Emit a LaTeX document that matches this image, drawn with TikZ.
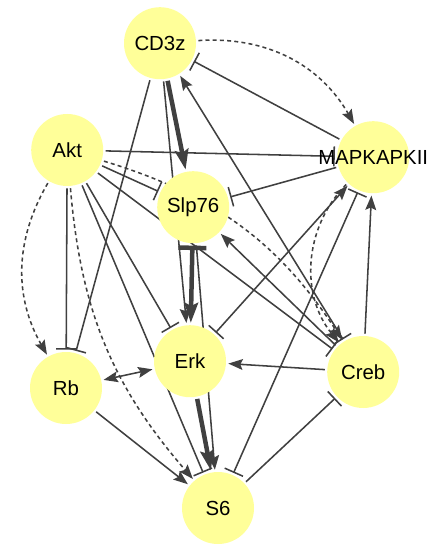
\documentclass[tikz,border=0pt]{standalone}
\usepackage{fontspec}
\setmainfont{Liberation Sans}
\usetikzlibrary{arrows.meta,backgrounds}
\definecolor{genefill}{HTML}{FFFF99}
\definecolor{edgegray}{HTML}{404040}

\begin{document}
\begin{tikzpicture}[
        gene/.style={circle, fill=genefill, minimum size=1.8cm, inner sep=0pt, font=\fontsize{14.5}{17}\selectfont},
        edge/.style={draw=edgegray, line width=1.1pt, shorten >=1.5pt, shorten <=1.5pt},
        act/.style={edge, -Act},
        inh/.style={edge, -Inh},
        weak/.style={dash pattern=on 1mm off 0.8mm},
        strong/.style={line width=3.2pt},
        Act/.tip={Stealth[length=3.6mm, width=2.7mm, inset=0.6mm]},
        Inh/.tip={Bar[width=5mm]},
        ActB/.tip={Stealth[length=5mm, width=3.4mm, inset=0.8mm]},
        InhB/.tip={Bar[width=7mm]}
    ]
        \useasboundingbox (0,0) rectangle (10.875,-13.75);

        \node[gene] (cd3z) at (4.00,-1.08) {CD3z};
        \node[gene] (akt) at (1.68,-3.75) {Akt};
        \node[gene] (mapk) at (9.33,-3.93) {\makebox[0pt]{MAPKAPKII}};
        \node[gene] (slp76) at (4.83,-5.18) {Slp76};
        \node[gene] (erk) at (4.75,-9.03) {Erk};
        \node[gene] (rb) at (1.65,-9.70) {Rb};
        \node[gene] (creb) at (9.08,-9.30) {Creb};
        \node[gene] (s6) at (5.45,-12.70) {S6};

        \begin{scope}[on background layer]
        % CD3z
        \draw[act, weak] (cd3z) to[bend left=32] (mapk);
        \draw[inh] (mapk) -- (cd3z);
        \draw[edge, strong, -ActB] (cd3z) -- (slp76);
        \draw[act] (cd3z) -- (erk);
        \draw[inh] (cd3z) -- (rb);
        \draw[edge, Act-Inh] (cd3z) -- (creb);
        % Akt
        \draw[inh] (akt) -- (mapk);
        \draw[inh] (akt) -- (slp76);
        \draw[act, weak] (akt) to[bend left=20] (creb);
        \draw[inh] (akt) -- (creb);
        \draw[inh] (akt) -- (erk);
        \draw[inh] (akt) -- (s6);
        \draw[inh] (akt) -- (rb);
        \draw[act, weak] (akt) to[bend right=30] (rb);
        \draw[act, weak] (akt) to[bend right=18] (s6);
        % MAPKAPKII
        \draw[inh] (mapk) -- (slp76);
        \draw[edge, Inh-Act] (erk) -- (mapk);
        \draw[edge, Inh-Inh] (mapk) -- (s6);
        \draw[act, weak] (mapk) to[bend right=42] (creb);
        \draw[act] (creb) -- (mapk);
        % Slp76, Erk, Creb, Rb
        \draw[edge, strong, InhB-ActB] (slp76) -- (erk);
        \draw[act] (slp76) -- (s6);
        \draw[act] (creb) -- (slp76);
        \draw[act] (creb) -- (erk);
        \draw[inh] (s6) -- (creb);
        \draw[edge, Act-Act] (rb) -- (erk);
        \draw[act] (rb) -- (s6);
        \draw[edge, strong, -ActB] (erk) -- (s6);
        \end{scope}
    \end{tikzpicture}
\end{document}
